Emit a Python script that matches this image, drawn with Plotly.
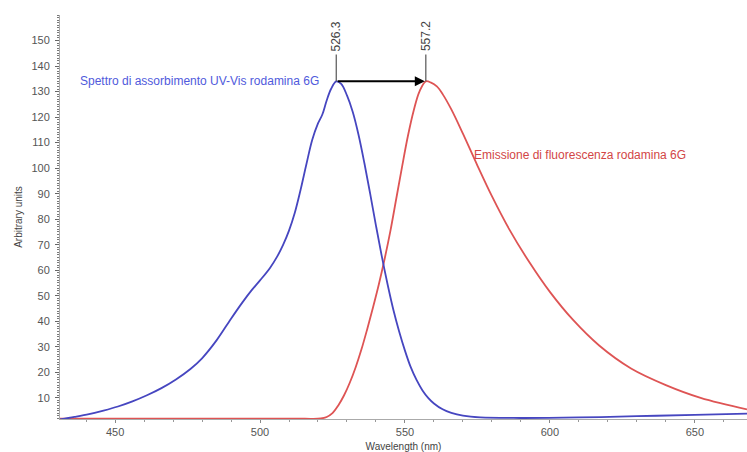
import plotly.graph_objects as go

# ---- data ----
abs_wl = [431, 436, 441, 446, 451, 456, 461, 466, 471, 476, 480, 485, 490, 494, 497, 500,
          503.5, 506, 508, 510, 512, 514, 516, 518, 520, 521.5, 523, 524.5, 526.3, 528,
          530, 532, 534, 536, 538, 540, 542, 544, 546, 548, 550, 552, 554, 556, 558, 560,
          563, 566, 570, 576, 590, 610, 630, 650, 668]
abs_val = [1.5, 2.5, 3.6, 5, 6.6, 8.6, 11, 13.8, 17.2, 21.3, 25.5, 32.5, 41, 47.5, 52, 56,
           61, 65.5, 70, 75.5, 82.5, 91.5, 101.5, 111, 117.5, 121, 126.5, 131, 134, 133,
           128.5, 122, 113, 102, 90, 77.5, 65.5, 54.5, 44.5, 36, 28.5, 22, 17, 13, 10, 7.8,
           5.5, 4.1, 3, 2.3, 2.1, 2.3, 2.8, 3.3, 3.8]

em_wl = [431, 460, 490, 515, 521, 523, 525, 527, 529, 531, 533, 535, 537, 539, 541, 543,
         545, 547, 549, 551, 553, 555, 557.2, 559, 561, 563, 566, 570, 575, 580, 586, 593,
         600, 608, 617, 628, 640, 652, 668]
em_val = [1.8, 1.8, 1.8, 1.8, 1.9, 2.5, 4, 7, 11, 16, 22, 29, 37, 45.5, 54.5, 64.5,
          75.5, 88, 100.5, 112.5, 122.5, 130, 134, 133.5, 132, 129, 123, 113.5, 101, 89, 76, 63,
          51.5, 40.5, 30.5, 21.5, 15, 10, 5.5]

abs_label = "Spettro di assorbimento UV-Vis rodamina 6G"
em_label = "Emissione di fluorescenza rodamina 6G"
peak_wl = [526.3, 557.2]
peak_text = ["526.3", "557.2"]

y_ticks = list(range(10, 160, 10))
x_ticks = [450, 500, 550, 600, 650]

BLUE = "rgb(70,70,192)"
RED = "rgb(222,84,84)"
FONT = "Liberation Sans, Arial, sans-serif"

fig = go.Figure()
fig.add_trace(go.Scatter(x=em_wl, y=em_val, mode="lines", line=dict(color=RED, width=1.8, shape="spline", smoothing=1.0),
                         name=em_label, showlegend=False, hoverinfo="skip"))
fig.add_trace(go.Scatter(x=abs_wl, y=abs_val, mode="lines", line=dict(color=BLUE, width=1.8, shape="spline", smoothing=1.0),
                         name=abs_label, showlegend=False, hoverinfo="skip"))

peak_h = max(abs_val)
peak_h2 = max(em_val)
top_line = peak_h + 10.5

shapes = []
annotations = []
for wl, txt, h in zip(peak_wl, peak_text, [peak_h, peak_h2]):
    shapes.append(dict(type="line", xref="x", yref="y", x0=wl, x1=wl, y0=h, y1=top_line,
                       line=dict(color="#555555", width=1.2)))
    annotations.append(dict(x=wl, y=top_line + 0.5, xref="x", yref="y", text=txt, textangle=-90,
                            showarrow=False, yanchor="bottom", xanchor="center",
                            font=dict(family=FONT, size=12, color="#444444")))

annotations.append(dict(x=peak_wl[1], y=peak_h2, ax=peak_wl[0], ay=peak_h, xref="x", yref="y",
                        axref="x", ayref="y", text="", showarrow=True, arrowhead=2, arrowsize=1,
                        arrowwidth=2, arrowcolor="black", standoff=1))
annotations.append(dict(x=437.2, y=134, xref="x", yref="y", text=abs_label, showarrow=False,
                        xanchor="left", yanchor="middle",
                        font=dict(family=FONT, size=12, color="rgb(80,90,220)")))
annotations.append(dict(x=573.1, y=105.3, xref="x", yref="y", text=em_label, showarrow=False,
                        xanchor="left", yanchor="middle",
                        font=dict(family=FONT, size=12, color="rgb(210,70,70)")))

fig.update_layout(
    width=747, height=452,
    margin=dict(l=60, r=0, t=15, b=33),
    paper_bgcolor="white", plot_bgcolor="white",
    font=dict(family=FONT, size=11, color="#555555"),
    shapes=shapes, annotations=annotations,
    xaxis=dict(range=[431, 668], tickvals=x_ticks, ticks="outside", ticklen=3, tickcolor="#888888",
               showline=True, linecolor="#aaaaaa", linewidth=1, showgrid=False, zeroline=False,
               minor=dict(dtick=10, ticks="outside", ticklen=2, tickcolor="#999999"),
               tickfont=dict(size=11, color="#555555"),
               title=dict(text="Wavelength (nm)", font=dict(size=10, color="#444444"), standoff=6)),
    yaxis=dict(range=[1.7, 160], tickvals=y_ticks, ticks="outside", ticklen=4, tickcolor="#666666",
               showline=True, linecolor="#aaaaaa", linewidth=1, showgrid=False, zeroline=False,
               minor=dict(dtick=1, ticks="outside", ticklen=2, tickcolor="#777777"),
               tickfont=dict(size=11, color="#555555"), ticklabelstandoff=3,
               title=dict(text="Arbitrary units", font=dict(size=10, color="#444444"), standoff=6)),
)

fig.write_html("out.html")
